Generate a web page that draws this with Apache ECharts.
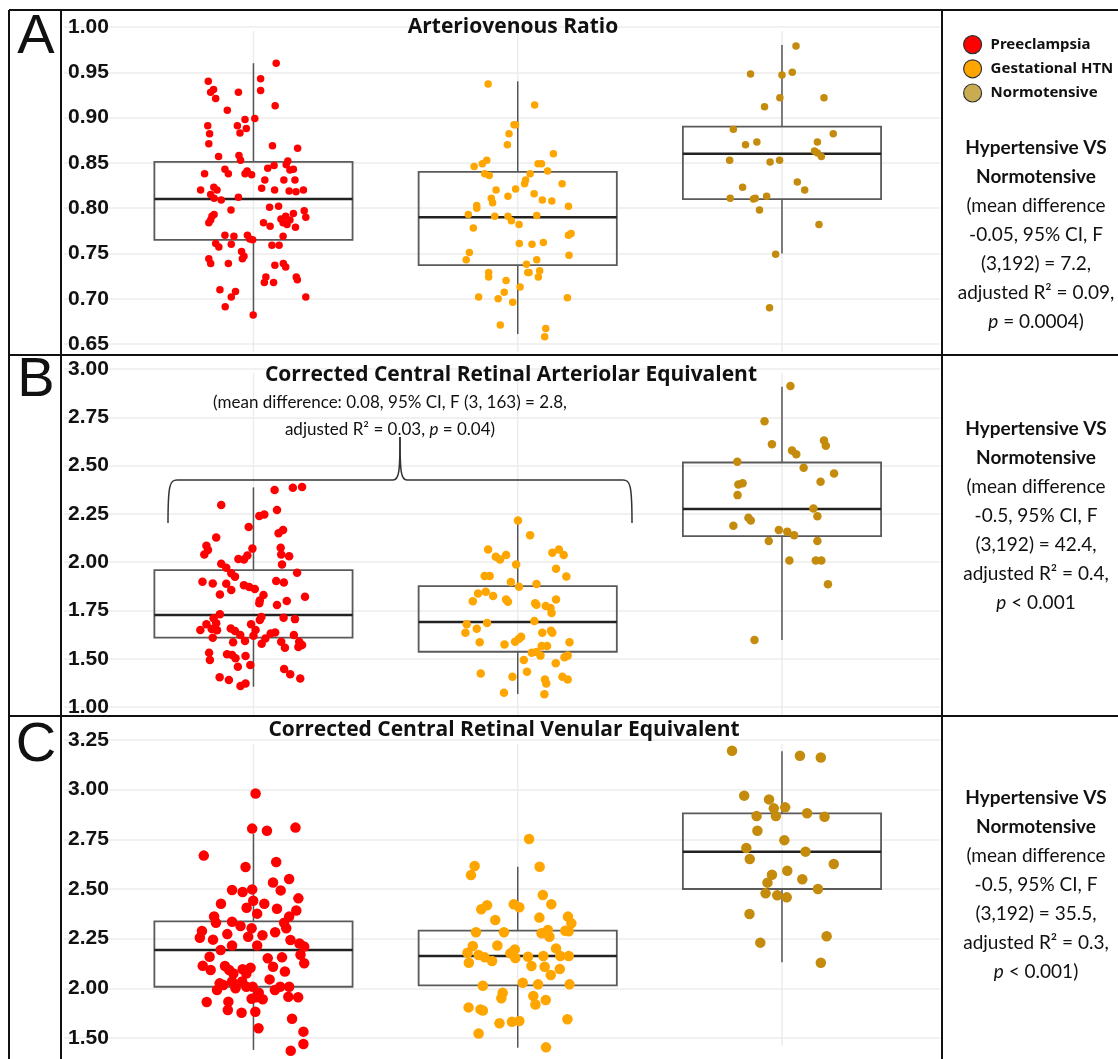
<!DOCTYPE html>
<html>
<head>
<meta charset="utf-8">
<script src="https://cdn.jsdelivr.net/npm/echarts@6/dist/echarts.min.js"></script>
<style>
  html, body { margin: 0; padding: 0; background: #fff; }
  #chart { width: 1118px; height: 1059px; }
</style>
</head>
<body>
<div id="chart"></div>
<script>
// groups (x categories)
var groups = ['Preeclampsia', 'Gestational HTN', 'Normotensive'];

// ---- A: Arteriovenous Ratio ----
var avPreVal = [0.960,0.940,0.943,0.931,0.928,0.921,0.928,0.930,0.913,0.908,0.899,0.898,0.891,0.883,0.888,0.891,0.882,0.871,0.869,0.866,0.857,0.858,0.853,0.852,0.848,0.843,0.838,0.838,0.841,0.838,0.837,0.844,0.847,0.843,0.842,0.831,0.831,0.831,0.823,0.820,0.815,0.811,0.809,0.820,0.812,0.822,0.820,0.819,0.818,0.820,0.801,0.802,0.798,0.793,0.791,0.784,0.787,0.788,0.791,0.794,0.797,0.790,0.787,0.784,0.782,0.784,0.780,0.779,0.770,0.769,0.770,0.765,0.766,0.769,0.761,0.757,0.760,0.759,0.759,0.752,0.747,0.744,0.744,0.739,0.739,0.737,0.739,0.735,0.724,0.718,0.718,0.724,0.721,0.710,0.708,0.702,0.702,0.691,0.682];
var avPreJit = [0.086,-0.171,0.027,-0.151,-0.162,-0.143,-0.057,0.027,0.082,-0.099,0.005,-0.032,-0.061,-0.051,-0.027,-0.173,-0.166,-0.169,0.072,0.167,-0.132,-0.055,-0.049,0.130,0.124,-0.108,-0.095,-0.185,-0.024,-0.032,-0.007,0.054,0.078,0.151,0.138,0.043,0.115,0.157,-0.150,-0.138,-0.162,-0.149,-0.122,-0.200,-0.057,0.031,0.080,0.135,0.161,0.189,0.061,0.095,-0.085,-0.149,-0.157,-0.169,-0.162,0.104,0.122,0.151,0.192,0.198,0.138,0.112,0.127,0.038,0.063,0.159,-0.108,-0.074,-0.023,-0.003,-0.014,0.112,-0.143,-0.131,-0.084,0.070,0.097,-0.045,-0.036,-0.042,-0.169,-0.162,-0.095,0.081,0.113,0.122,0.047,0.041,0.076,0.162,0.166,-0.127,-0.068,-0.084,0.198,-0.107,-0.001];
var avGesVal = [0.937,0.914,0.892,0.892,0.882,0.870,0.860,0.853,0.849,0.846,0.849,0.849,0.841,0.838,0.836,0.838,0.831,0.827,0.827,0.820,0.821,0.816,0.813,0.811,0.806,0.809,0.808,0.803,0.800,0.802,0.793,0.791,0.791,0.786,0.792,0.782,0.778,0.770,0.772,0.761,0.760,0.762,0.751,0.743,0.748,0.743,0.738,0.729,0.729,0.731,0.724,0.729,0.724,0.720,0.713,0.707,0.702,0.700,0.696,0.701,0.671,0.667,0.658];
var avGesJit = [-0.112,0.064,-0.014,-0.008,-0.033,-0.039,0.135,-0.117,-0.134,-0.165,0.077,0.090,0.113,-0.125,-0.108,0.047,0.030,0.026,0.168,-0.082,-0.008,0.062,-0.037,-0.100,-0.095,0.093,0.129,-0.155,-0.155,0.192,-0.187,-0.087,-0.037,-0.024,0.072,0.005,-0.168,0.192,0.202,0.006,0.054,0.097,-0.183,-0.195,0.194,0.072,0.033,0.038,0.043,0.083,0.078,-0.110,-0.110,-0.044,0.009,-0.051,-0.148,-0.074,-0.019,0.188,-0.066,0.106,0.102];
var avNorVal = [0.979,0.948,0.947,0.950,0.922,0.922,0.912,0.887,0.882,0.870,0.873,0.873,0.863,0.861,0.857,0.853,0.851,0.853,0.829,0.820,0.823,0.811,0.810,0.811,0.813,0.798,0.782,0.749,0.690];
var avNorJit = [0.053,-0.119,0.000,0.039,-0.008,0.159,-0.066,-0.184,0.194,-0.138,-0.095,0.134,0.123,0.134,0.149,-0.198,-0.045,-0.009,0.058,0.086,-0.149,-0.196,-0.108,-0.101,-0.058,-0.085,0.140,-0.024,-0.047];
// box stats: [low whisker, q1, median, q3, high whisker]
var avBox = [[0.682,0.765,0.810,0.851,0.960],[0.661,0.737,0.790,0.840,0.940],[0.750,0.810,0.860,0.890,0.980]];

// ---- B: Corrected Central Retinal Arteriolar Equivalent ----
var craePreVal = [2.296,2.373,2.385,2.389,2.270,2.239,2.247,2.182,2.149,2.166,2.128,2.085,2.063,2.040,2.070,2.075,2.040,2.030,2.035,2.014,2.016,1.988,1.992,1.971,1.942,1.925,1.945,1.899,1.890,1.888,1.902,1.895,1.881,1.871,1.861,1.856,1.833,1.830,1.802,1.787,1.821,1.799,1.778,1.730,1.709,1.683,1.716,1.700,1.712,1.705,1.649,1.678,1.654,1.647,1.657,1.643,1.623,1.592,1.678,1.649,1.619,1.609,1.605,1.578,1.630,1.636,1.588,1.557,1.623,1.588,1.571,1.561,1.585,1.519,1.531,1.493,1.523,1.502,1.459,1.514,1.467,1.447,1.419,1.404,1.390,1.359,1.372,1.398];
var craePreJit = [-0.122,0.080,0.149,0.184,0.089,0.022,0.041,-0.018,0.095,0.112,-0.141,-0.178,-0.172,-0.186,-0.004,0.103,0.105,0.135,-0.023,-0.036,-0.057,0.108,-0.122,-0.103,-0.084,-0.070,0.165,-0.193,-0.154,-0.103,0.086,0.115,-0.036,-0.016,0.005,-0.084,-0.127,0.038,0.024,0.022,0.195,0.126,0.089,-0.127,-0.151,-0.141,0.030,0.024,0.114,0.157,-0.201,-0.178,-0.158,-0.138,-0.086,-0.070,-0.050,-0.032,-0.009,0.008,0.000,-0.154,0.045,0.031,0.065,0.082,0.105,0.119,0.153,0.173,0.184,0.170,-0.077,-0.081,-0.168,-0.165,-0.100,-0.068,-0.059,-0.030,-0.012,0.116,0.139,-0.128,-0.093,-0.049,-0.030,0.177];
var craeGesVal = [2.216,2.139,2.066,2.028,2.014,2.037,1.988,2.049,2.066,2.037,1.966,1.926,1.928,1.928,1.897,1.873,1.887,1.838,1.847,1.825,1.797,1.807,1.795,1.787,1.780,1.807,1.773,1.762,1.737,1.695,1.685,1.678,1.655,1.635,1.635,1.645,1.635,1.585,1.574,1.588,1.604,1.614,1.566,1.566,1.585,1.531,1.535,1.516,1.493,1.476,1.507,1.516,1.424,1.407,1.433,1.393,1.372,1.407,1.393,1.324,1.316];
var craeGesJit = [0.001,0.047,-0.112,-0.083,-0.067,-0.044,-0.006,0.131,0.156,0.174,0.145,0.184,-0.125,-0.106,-0.026,0.005,0.071,-0.150,-0.121,-0.093,-0.170,-0.044,-0.037,0.066,0.071,0.145,0.106,0.124,0.128,0.063,-0.116,-0.193,-0.155,-0.198,0.093,0.126,0.131,-0.144,-0.050,-0.010,0.005,0.013,0.091,0.111,0.196,0.053,0.071,0.086,0.023,0.144,0.177,0.189,-0.140,-0.020,0.035,0.103,0.108,0.169,0.189,-0.052,0.101];
var craeNorVal = [2.912,2.730,2.610,2.630,2.603,2.578,2.558,2.520,2.489,2.459,2.416,2.402,2.409,2.347,2.278,2.237,2.230,2.216,2.189,2.166,2.158,2.139,2.109,2.109,2.009,2.009,2.009,1.885,1.597];
var craeNorJit = [0.032,-0.066,-0.038,0.159,0.166,0.038,0.054,-0.169,0.082,0.197,0.146,-0.165,-0.149,-0.168,0.119,0.134,-0.127,-0.118,-0.184,-0.012,0.020,0.046,-0.050,0.134,0.028,0.128,0.149,0.174,-0.104];
var craeBox = [[1.355,1.609,1.726,1.959,2.387],[1.317,1.536,1.690,1.876,2.200],[1.597,2.135,2.275,2.516,2.908]];

// ---- C: Corrected Central Retinal Venular Equivalent ----
var crvePreVal = [2.981,2.804,2.793,2.809,2.668,2.611,2.636,2.550,2.533,2.493,2.495,2.485,2.498,2.426,2.441,2.426,2.453,2.406,2.401,2.392,2.376,2.362,2.330,2.335,2.314,2.361,2.330,2.302,2.302,2.289,2.255,2.273,2.260,2.267,2.282,2.243,2.245,2.216,2.193,2.216,2.226,2.210,2.169,2.159,2.151,2.109,2.156,2.126,2.114,2.092,2.112,2.092,2.075,2.096,2.075,2.104,2.085,2.025,2.017,1.992,2.034,2.000,2.034,2.008,2.008,1.978,1.945,2.045,1.992,2.008,2.008,1.958,1.955,1.955,1.948,1.931,1.933,1.891,1.877,1.882,1.847,1.799,1.782,1.720,1.686];
var crvePreJit = [0.008,-0.005,0.051,0.159,-0.188,-0.030,0.086,0.135,0.074,0.103,-0.081,-0.041,-0.005,-0.123,-0.001,0.041,0.170,-0.026,0.089,0.162,0.014,-0.149,-0.142,-0.081,-0.049,0.135,0.116,0.124,-0.007,-0.195,-0.203,-0.099,-0.020,0.034,0.082,0.140,-0.153,-0.081,-0.124,0.014,0.174,0.192,0.178,-0.166,0.054,0.074,0.108,0.192,-0.192,-0.162,-0.108,-0.092,-0.076,-0.041,-0.027,-0.011,0.119,-0.128,-0.114,-0.138,-0.081,-0.068,-0.043,-0.027,-0.003,0.020,0.035,0.061,0.081,0.101,0.135,0.132,0.169,0.011,-0.007,-0.177,-0.095,-0.097,-0.045,0.007,0.146,0.019,0.189,0.189,0.141];
var crveGesVal = [2.752,2.616,2.570,2.612,2.470,2.423,2.418,2.398,2.423,2.408,2.344,2.356,2.361,2.327,2.282,2.282,2.277,2.294,2.260,2.290,2.287,2.213,2.216,2.201,2.179,2.129,2.168,2.156,2.138,2.176,2.196,2.153,2.159,2.112,2.163,2.109,2.163,2.163,2.097,2.067,2.028,2.013,2.020,2.020,1.978,1.950,1.961,1.919,1.941,1.904,1.894,1.888,1.824,1.832,1.836,1.844,1.773,1.703];
var crveGesJit = [0.043,-0.163,-0.177,0.083,0.095,0.127,-0.116,-0.138,-0.015,0.006,-0.085,0.082,0.190,0.203,-0.158,-0.052,0.090,0.114,0.120,0.180,0.193,-0.170,-0.077,0.145,-0.190,-0.185,-0.148,-0.125,-0.097,-0.028,-0.011,-0.009,0.039,0.052,0.097,0.102,0.161,0.193,0.159,0.125,0.019,-0.132,0.077,0.196,-0.057,-0.062,0.059,0.067,0.106,-0.186,-0.141,-0.132,-0.069,-0.022,0.006,0.188,-0.148,0.107];
var crveNorVal = [3.196,3.171,3.162,2.970,2.951,2.906,2.867,2.911,2.867,2.881,2.864,2.793,2.746,2.706,2.651,2.688,2.626,2.592,2.572,2.532,2.549,2.500,2.478,2.468,2.458,2.374,2.230,2.262,2.129];
var crveNorJit = [-0.189,0.068,0.147,-0.143,-0.049,-0.031,-0.023,0.012,-0.096,0.095,0.161,-0.093,0.009,-0.135,-0.122,0.089,0.196,0.020,-0.038,-0.055,0.077,0.136,-0.062,-0.018,0.018,-0.123,-0.082,0.169,0.147];
var crveBox = [[1.690,2.008,2.193,2.337,2.777],[1.701,2.015,2.163,2.290,2.612],[2.131,2.500,2.688,2.881,3.194]];

var dotColors = ['#ff0000', '#ffa500', '#c48b0d'];
var legendColors = ['#ff0000', '#ffa500', '#c9ab52'];

var panels = [
  { top: 27, height: 317, min: 0.65, max: 1.0, interval: 0.05, size: 7.5, box: avBox,
    pts: [[avPreVal, avPreJit], [avGesVal, avGesJit], [avNorVal, avNorJit]], low: null },
  { top: 369, height: 338, min: 1.25, max: 3.0, interval: 0.25, size: 8.5, box: craeBox,
    pts: [[craePreVal, craePreJit], [craeGesVal, craeGesJit], [craeNorVal, craeNorJit]], low: '1.00' },
  { top: 740, height: 298, min: 1.75, max: 3.25, interval: 0.25, size: 10.5, box: crveBox,
    pts: [[crvePreVal, crvePreJit], [crveGesVal, crveGesJit], [crveNorVal, crveNorJit]], low: '1.50' }
];

function renderBox (params, api) {
  var x = api.value(0);
  var lo = api.coord([x, api.value(1)]);
  var q1 = api.coord([x, api.value(2)]);
  var md = api.coord([x, api.value(3)]);
  var q3 = api.coord([x, api.value(4)]);
  var hi = api.coord([x, api.value(5)]);
  var half = api.size([0.375, 0])[0];
  var cs = params.coordSys;
  var whisker = { stroke: '#555', lineWidth: 1.5 };
  return {
    type: 'group',
    children: [
      { type: 'line', z2: 0, shape: { x1: md[0], y1: cs.y + 4, x2: md[0], y2: cs.y + cs.height + 8 }, style: { stroke: '#ececec', lineWidth: 1.5 } },
      { type: 'line', shape: { x1: hi[0], y1: hi[1], x2: q3[0], y2: q3[1] }, style: whisker },
      { type: 'line', shape: { x1: lo[0], y1: lo[1], x2: q1[0], y2: q1[1] }, style: whisker },
      { type: 'rect', shape: { x: q3[0] - half, y: q3[1], width: half * 2, height: q1[1] - q3[1] }, style: { fill: 'none', stroke: '#5a5a5a', lineWidth: 1.8 } },
      { type: 'line', shape: { x1: md[0] - half, y1: md[1], x2: md[0] + half, y2: md[1] }, style: { stroke: '#222', lineWidth: 2.5 } }
    ]
  };
}

var grids = [], xAxes = [], yAxes = [], series = [];
panels.forEach(function (p, i) {
  grids.push({ left: 64, right: 178, top: p.top, height: p.height });
  xAxes.push({ type: 'value', gridIndex: i, min: -0.717, max: 2.598, show: false });
  yAxes.push({
    type: 'value', gridIndex: i, min: p.min, max: p.max, interval: p.interval,
    axisLine: { show: false }, axisTick: { show: false },
    splitLine: { lineStyle: { color: '#ececec', width: 1.5 } },
    axisLabel: {
      inside: true, margin: 4, color: '#111', fontFamily: 'Liberation Sans', fontWeight: 'bold', fontSize: 21,
      formatter: function (v) {
        if (p.low && Math.abs(v - p.min) < 1e-6) return p.low;
        return v.toFixed(2);
      }
    }
  });
  series.push({
    type: 'custom', xAxisIndex: i, yAxisIndex: i, z: 2, silent: true,
    renderItem: renderBox,
    data: p.box.map(function (b, g) { return [g].concat(b); })
  });
  p.pts.forEach(function (pair, g) {
    series.push({
      type: 'scatter', name: groups[g], xAxisIndex: i, yAxisIndex: i, z: 3, clip: false,
      symbolSize: p.size, itemStyle: { color: dotColors[g], opacity: 1 },
      data: pair[0].map(function (v, k) { return [g + (pair[1][k] || 0), v]; })
    });
  });
});

var frame = { stroke: '#111', lineWidth: 2 };
function hline (y, x1, x2) { return { type: 'line', z: 20, shape: { x1: x1, y1: y, x2: x2, y2: y }, style: frame }; }
function vline (x, y1, y2) { return { type: 'line', z: 20, shape: { x1: x, y1: y1, x2: x, y2: y2 }, style: frame }; }

function letter (t, y) {
  return { type: 'text', z: 20, x: 36, y: y, style: { text: t, fontFamily: 'Liberation Sans', fontSize: 56, fill: '#111', textAlign: 'center', textVerticalAlign: 'middle' } };
}
function title (t, x, y) {
  return { type: 'text', z: 20, x: x, y: y, style: { text: t, fontFamily: 'Open Sans', fontWeight: 'bold', fontSize: 21, fill: '#111', textAlign: 'center', textVerticalAlign: 'middle' } };
}
var rich = {
  b: { fontFamily: 'Lato', fontSize: 19, fontWeight: 'bold', lineHeight: 29, fill: '#111' },
  i: { fontFamily: 'Lato', fontSize: 19, fontStyle: 'italic', lineHeight: 29, fill: '#111' }
};
function sideText (t, y) {
  return { type: 'text', z: 20, x: 1036, y: y, style: { text: t, fontFamily: 'Lato', fontSize: 19, lineHeight: 29, fill: '#111', textAlign: 'center', textVerticalAlign: 'top', rich: rich } };
}

var brace = { stroke: '#333', lineWidth: 1.5, fill: null };
var graphics = [
  hline(10, 9, 1118), hline(355, 9, 1118), hline(716, 9, 1118),
  vline(9, 10, 1059), vline(61, 10, 1059), vline(942, 10, 1059),
  letter('A', 38), letter('B', 381), letter('C', 746),
  title('Arteriovenous Ratio', 513, 27),
  title('Corrected Central Retinal Arteriolar Equivalent', 511, 375),
  title('Corrected Central Retinal Venular Equivalent', 504, 730),
  {
    type: 'text', z: 20, x: 390, y: 389, style: {
      text: '(mean difference: 0.08, 95% CI, F (3, 163) = 2.8,\nadjusted R² = 0.03, {i2|p} = 0.04)',
      fontFamily: 'Lato', fontSize: 17, lineHeight: 27, fill: '#111', textAlign: 'center', textVerticalAlign: 'top',
      rich: { i2: { fontFamily: 'Lato', fontSize: 17, fontStyle: 'italic', lineHeight: 27, fill: '#111' } }
    }
  },
  // brace under the subtitle
  { type: 'bezierCurve', z: 20, shape: { x1: 168, y1: 523, cpx1: 168, cpy1: 484, cpx2: 170, cpy2: 480, x2: 177, y2: 480 }, style: brace },
  { type: 'line', z: 20, shape: { x1: 177, y1: 480, x2: 393, y2: 480 }, style: brace },
  { type: 'bezierCurve', z: 20, shape: { x1: 393, y1: 480, cpx1: 399, cpy1: 480, cpx2: 400, cpy2: 472, x2: 400, y2: 437 }, style: brace },
  { type: 'bezierCurve', z: 20, shape: { x1: 400, y1: 437, cpx1: 400, cpy1: 472, cpx2: 401, cpy2: 480, x2: 407, y2: 480 }, style: brace },
  { type: 'line', z: 20, shape: { x1: 407, y1: 480, x2: 623, y2: 480 }, style: brace },
  { type: 'bezierCurve', z: 20, shape: { x1: 623, y1: 480, cpx1: 630, cpy1: 480, cpx2: 632, cpy2: 484, x2: 632, y2: 523 }, style: brace },
  sideText('{b|Hypertensive VS}\n{b|Normotensive}\n(mean difference\n-0.05, 95% CI, F\n(3,192) = 7.2,\nadjusted R² = 0.09,\n{i|p} = 0.0004)', 133),
  sideText('{b|Hypertensive VS}\n{b|Normotensive}\n(mean difference\n-0.5, 95% CI, F\n(3,192) = 42.4,\nadjusted R² = 0.4,\n{i|p} < 0.001', 414),
  sideText('{b|Hypertensive VS}\n{b|Normotensive}\n(mean difference\n-0.5, 95% CI, F\n(3,192) = 35.5,\nadjusted R² = 0.3,\n{i|p} < 0.001)', 783)
];

var chart = echarts.init(document.getElementById('chart'));
chart.setOption({
  backgroundColor: '#fff',
  animation: false,
  legend: {
    orient: 'vertical', left: 958, top: 30, itemGap: 5, itemWidth: 18, itemHeight: 18, icon: 'circle',
    itemStyle: { borderColor: '#333', borderWidth: 1.2 },
    textStyle: { fontFamily: 'Noto Sans', fontWeight: 'bold', fontSize: 15, color: '#111', padding: [0, 0, 0, 4] },
    data: groups.map(function (g, k) { return { name: g, itemStyle: { color: legendColors[k] } }; })
  },
  grid: grids,
  xAxis: xAxes,
  yAxis: yAxes,
  series: series,
  graphic: graphics
});
</script>
</body>
</html>
